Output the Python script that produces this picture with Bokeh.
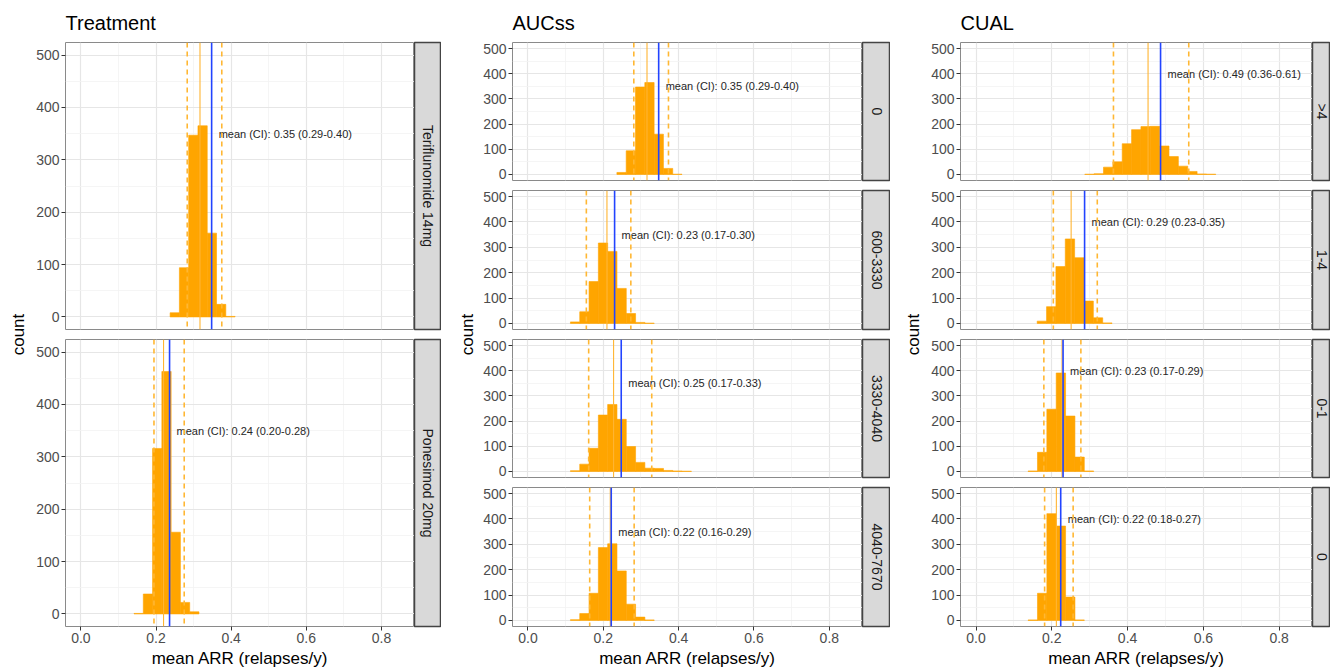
import numpy as np
from bokeh.plotting import figure
from bokeh.layouts import row, column
from bokeh.models import Range1d, FixedTicker, Span, Title
from bokeh.core.properties import value
from bokeh.embed import file_html
from bokeh.resources import INLINE

# ---------------- data ----------------
BIN_WIDTH = 0.0247

# Treatment column
treat_groups = ["Teriflunomide 14mg", "Ponesimod 20mg"]
treat_bin_start = [0.2375, 0.1414]
treat_counts = [[8, 94, 347, 365, 160, 24, 1],
                [1, 38, 316, 463, 156, 22, 4]]
treat_mean = [0.348, 0.236]
treat_median = [0.317, 0.220]
treat_ci_lo = [0.283, 0.1945]
treat_ci_hi = [0.375, 0.275]
treat_labels = ["mean (CI): 0.35 (0.29-0.40)", "mean (CI): 0.24 (0.20-0.28)"]
treat_label_y = 350

# AUCss column
auc_groups = ["0", "600-3330", "3330-4040", "4040-7670"]
auc_bin_start = [0.2361, 0.1128, 0.1128, 0.1128]
auc_counts = [[8, 94, 347, 365, 160, 24, 1],
              [6, 46, 165, 317, 284, 138, 39, 4, 1],
              [3, 29, 92, 224, 266, 207, 99, 36, 13, 12, 4, 2, 1],
              [3, 27, 107, 287, 302, 195, 64, 13, 2]]
auc_mean = [0.347, 0.230, 0.2476, 0.2211]
auc_median = [0.316, 0.2097, 0.2273, 0.2185]
auc_ci_lo = [0.281, 0.155, 0.1612, 0.1639]
auc_ci_hi = [0.373, 0.2731, 0.3286, 0.2819]
auc_labels = ["mean (CI): 0.35 (0.29-0.40)", "mean (CI): 0.23 (0.17-0.30)",
              "mean (CI): 0.25 (0.17-0.33)", "mean (CI): 0.22 (0.16-0.29)"]
auc_label_y = 350

# CUAL column
cual_groups = [">4", "1-4", "0-1", "0"]
cual_bin_start = [0.2870, 0.1614, 0.1375, 0.1375]
cual_counts = [[1, 3, 29, 50, 122, 178, 190, 191, 113, 71, 33, 12, 2, 1],
               [9, 66, 224, 333, 259, 88, 22, 2],
               [2, 76, 247, 391, 220, 57, 2],
               [2, 107, 421, 372, 92, 2]]
cual_mean = [0.487, 0.2865, 0.2297, 0.2235]
cual_median = [0.454, 0.251, 0.227, 0.212]
cual_ci_lo = [0.3627, 0.204, 0.179, 0.181]
cual_ci_hi = [0.5614, 0.320, 0.2767, 0.2563]
cual_labels = ["mean (CI): 0.49 (0.36-0.61)", "mean (CI): 0.29 (0.23-0.35)",
               "mean (CI): 0.23 (0.17-0.29)", "mean (CI): 0.22 (0.18-0.27)"]
cual_label_y = 400

x_ticks = [0.0, 0.2, 0.4, 0.6, 0.8]
x_minor = [0.1, 0.3, 0.5, 0.7]
y_ticks = [0, 100, 200, 300, 400, 500]
y_minor = [50, 150, 250, 350, 450]

# ---------------- style ----------------
FONT = "Liberation Sans"
XR = (-0.041, 0.888)
YR = (-24, 524)
TOP = 42
HALF_GAP = 5
BOTTOM = 45
ORANGE = "#FFA500"
TOTAL_H = 671


def make_panel(counts, start, mean, median, lo, hi, label, label_y,
               fig_w, border_left, frame_h, top_border, bottom_border,
               with_xaxis, title=None):
    p = figure(width=fig_w, height=top_border + frame_h + bottom_border,
               x_range=Range1d(*XR), y_range=Range1d(*YR),
               output_backend="svg", toolbar_location=None,
               min_border_left=border_left, min_border_right=0,
               min_border_top=top_border, min_border_bottom=bottom_border)
    p.background_fill_color = "white"
    p.border_fill_color = "white"
    p.outline_line_color = "#8a8a8a"
    p.outline_line_width = 1

    xt = FixedTicker(ticks=x_ticks, minor_ticks=x_minor)
    yt = FixedTicker(ticks=y_ticks, minor_ticks=y_minor)
    p.xaxis.ticker = xt
    p.yaxis.ticker = yt
    p.xgrid.ticker = xt
    p.ygrid.ticker = yt
    for g in (p.xgrid, p.ygrid):
        g.grid_line_color = "#e6e6e6"
        g.grid_line_width = 1.2
        g.minor_grid_line_color = "#f2f2f2"
        g.minor_grid_line_width = 0.8

    for ax in (p.xaxis, p.yaxis):
        ax.axis_line_color = None
        ax.major_tick_line_color = "#333333"
        ax.major_tick_out = 4
        ax.major_tick_in = 0
        ax.minor_tick_line_color = None
        ax.major_label_text_font = FONT
        ax.major_label_text_font_size = "14px"
        ax.major_label_text_color = "#4d4d4d"
        ax.major_label_standoff = 2

    if with_xaxis:
        p.xaxis.major_label_standoff = 2
        p.xaxis.axis_label = "mean ARR (relapses/y)"
        p.xaxis.axis_label_text_font = FONT
        p.xaxis.axis_label_text_font_size = "17px"
        p.xaxis.axis_label_text_font_style = "normal"
        p.xaxis.axis_label_text_color = "black"
        p.xaxis.axis_label_standoff = 3
        p.xaxis.major_label_overrides = {t: f"{t:.1f}" for t in x_ticks}
    else:
        p.xaxis.visible = False

    lefts = [start + i * BIN_WIDTH for i in range(len(counts))]
    rights = [l + BIN_WIDTH for l in lefts]
    p.quad(left=lefts, right=rights, bottom=0, top=counts,
           fill_color=ORANGE, line_color=ORANGE, line_width=0.6)

    p.add_layout(Span(location=lo, dimension="height", line_color="#FFB733",
                      line_width=1.6, line_dash="5 4"))
    p.add_layout(Span(location=hi, dimension="height", line_color="#FFB733",
                      line_width=1.6, line_dash="5 4"))
    p.add_layout(Span(location=median, dimension="height", line_color="#FFB533",
                      line_width=1.1))
    p.add_layout(Span(location=mean, dimension="height", line_color="#2244ff",
                      line_width=1.6))

    p.text(x=[mean], y=[label_y], text=[label], x_offset=7,
           text_font=value(FONT), text_font_size="11px",
           text_align="left", text_baseline="middle", text_color="#262626")

    if title:
        p.add_layout(Title(text=title, align="left", text_font=FONT,
                           text_font_size="20px", text_font_style="normal",
                           text_color="black", standoff=18), "above")
    return p


def make_strip(text, w, frame_h, top_border, bottom_border, tx):
    s = figure(width=w, height=top_border + frame_h + bottom_border,
               x_range=Range1d(0, w), y_range=Range1d(0, 1),
               output_backend="svg", toolbar_location=None,
               min_border_left=0, min_border_right=0,
               min_border_top=top_border, min_border_bottom=bottom_border)
    s.xaxis.visible = False
    s.yaxis.visible = False
    s.xgrid.visible = False
    s.ygrid.visible = False
    s.background_fill_color = "#d9d9d9"
    s.border_fill_color = "white"
    s.outline_line_color = "#444444"
    s.outline_line_width = 1.5
    s.text(x=[tx], y=[0.5], text=[text], angle=-np.pi / 2,
           text_font=value(FONT), text_font_size="14px",
           text_align="center", text_baseline="middle", text_color="#1a1a1a")
    return s


def make_count(w, h, tx, ty_from_top):
    c = figure(width=w, height=h, x_range=Range1d(0, w), y_range=Range1d(0, h),
               output_backend="svg", toolbar_location=None,
               min_border_left=0, min_border_right=0,
               min_border_top=0, min_border_bottom=0)
    c.xaxis.visible = False
    c.yaxis.visible = False
    c.xgrid.visible = False
    c.ygrid.visible = False
    c.outline_line_color = None
    c.text(x=[tx], y=[h - ty_from_top], text=["count"], angle=np.pi / 2,
           text_font=value(FONT), text_font_size="17px",
           text_align="center", text_baseline="middle", text_color="black")
    return c


def make_column(title, groups, starts, counts, means, medians, los, his, labels,
                label_y, count_w, count_tx, panel_w, border_left, strip_w, strip_tx,
                frame_heights):
    panels, strips = [], []
    n = len(groups)
    for i in range(n):
        top_b = TOP if i == 0 else HALF_GAP
        last = i == n - 1
        bot_b = BOTTOM if last else HALF_GAP
        panels.append(make_panel(counts[i], starts[i], means[i], medians[i], los[i], his[i],
                                 labels[i], label_y, panel_w, border_left, frame_heights[i],
                                 top_b, bot_b, last, title if i == 0 else None))
        strips.append(make_strip(groups[i], strip_w, frame_heights[i], top_b, bot_b, strip_tx))
    cnt = make_count(count_w, TOTAL_H, count_tx, 334)
    return row(cnt, column(*panels, spacing=0), column(*strips, spacing=0), spacing=0)


col1 = make_column("Treatment", treat_groups, treat_bin_start, treat_counts, treat_mean,
                   treat_median, treat_ci_lo, treat_ci_hi, treat_labels, treat_label_y,
                   33, 18, 381, 30, 27, 13.5, [287, 287])
col2 = make_column("AUCss", auc_groups, auc_bin_start, auc_counts, auc_mean,
                   auc_median, auc_ci_lo, auc_ci_hi, auc_labels, auc_label_y,
                   39, 26, 382, 32, 28, 14, [138, 139, 138, 139])
col3 = make_column("CUAL", cual_groups, cual_bin_start, cual_counts, cual_mean,
                   cual_median, cual_ci_lo, cual_ci_hi, cual_labels, cual_label_y,
                   38, 23, 384, 32, 18, 9.5, [138, 139, 138, 139])

layout = row(col1, col2, col3, spacing=0)

with open("out.html", "w") as f:
    f.write(file_html(layout, INLINE))
